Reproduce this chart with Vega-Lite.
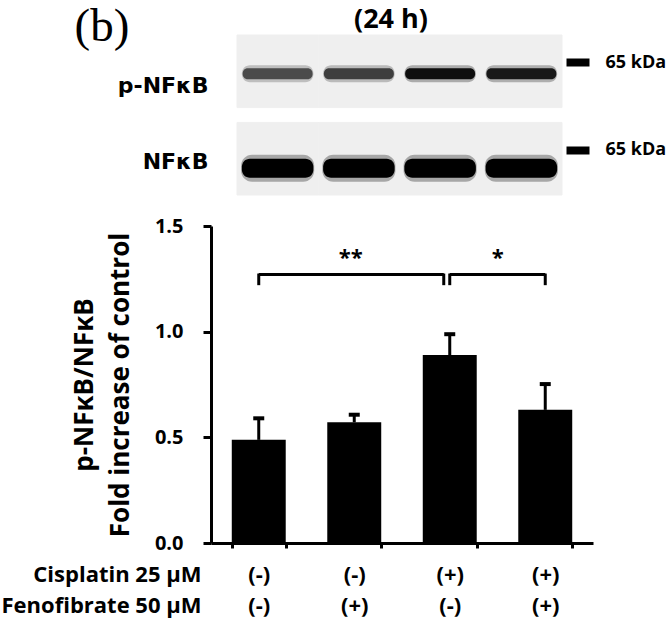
{
  "$schema": "https://vega.github.io/schema/vega-lite/v6.json",
  "padding": {"left": 1, "top": 2, "right": 5, "bottom": 4},
  "background": "white",
  "spacing": 20,
  "config": {
    "view": {"stroke": null},
    "font": "Open Sans",
    "axis": {"labelColor": "black", "titleColor": "black", "domainColor": "black", "tickColor": "black", "labelFont": "Open Sans", "titleFont": "Open Sans", "grid": false}
  },
  "datasets": {
    "blot": [
      {"lane": "1", "protein": "p-NFκB", "intensity": 0.68},
      {"lane": "2", "protein": "p-NFκB", "intensity": 0.74},
      {"lane": "3", "protein": "p-NFκB", "intensity": 0.96},
      {"lane": "4", "protein": "p-NFκB", "intensity": 0.92},
      {"lane": "1", "protein": "NFκB", "intensity": 1.0},
      {"lane": "2", "protein": "NFκB", "intensity": 1.0},
      {"lane": "3", "protein": "NFκB", "intensity": 1.0},
      {"lane": "4", "protein": "NFκB", "intensity": 1.0}
    ],
    "bars": [
      {"group": "(-)/(-)", "mean": 0.488, "upper": 0.59},
      {"group": "(-)/(+)", "mean": 0.571, "upper": 0.607},
      {"group": "(+)/(-)", "mean": 0.889, "upper": 0.988},
      {"group": "(+)/(+)", "mean": 0.63, "upper": 0.752}
    ],
    "brackets": [
      {"from": "(-)/(-)", "to": "(+)/(-)", "label": "**"},
      {"from": "(+)/(-)", "to": "(+)/(+)", "label": "*"}
    ]
  },
  "vconcat": [
    {
      "width": 351,
      "height": 160,
      "data": {"name": "blot"},
      "resolve": {"axis": {"y": "independent"}},
      "layer": [
        {
          "mark": {"type": "rect", "color": "#efefef", "stroke": "#efefef", "strokeWidth": 1},
          "encoding": {
            "x": {"field": "lane", "type": "ordinal",
              "scale": {"domain": ["1", "2", "3", "4"], "paddingInner": 0, "paddingOuter": 0.16, "align": 1},
              "axis": {"orient": "top", "title": "(24 h)", "labels": false, "ticks": false, "domain": false,
                "titleFontSize": 27, "titleFontWeight": "bold", "titleX": 179.5, "titleY": -8,
                "titleAlign": "center", "titleBaseline": "alphabetic"}},
            "y": {"field": "protein", "type": "nominal",
              "scale": {"domain": ["p-NFκB", "NFκB"], "paddingInner": 0.17, "paddingOuter": 0},
              "axis": {"title": "(b)", "titleAngle": 0, "titleFont": "Liberation Serif", "titleFontSize": 47,
                "titleFontWeight": "normal", "titleX": -137, "titleY": 5, "titleAlign": "left", "titleBaseline": "alphabetic",
                "labelFont": "DejaVu Sans", "labelFontSize": 22, "labelFontWeight": "bold",
                "ticks": false, "tickSize": 0, "domain": false, "labelPadding": 3,
                "labelOffset": {"condition": {"test": "datum.value === 'NFκB'", "value": 3.5}, "value": 14.5}}}
          }
        },
        {
          "transform": [{"filter": "datum.protein === 'p-NFκB'"}],
          "mark": {"type": "rect", "width": {"band": 0.88}, "height": 17, "yOffset": 2.5, "cornerRadius": 8, "opacity": 0.3},
          "encoding": {
            "x": {"field": "lane", "type": "ordinal"},
            "y": {"field": "protein", "type": "nominal",
              "axis": {"orient": "right", "title": null, "domain": false, "ticks": true, "tickSize": 23, "tickWidth": 8,
                "offset": 4, "tickOffset": -9, "labelExpr": "'65 kDa'", "labelFontSize": 18, "labelFontWeight": "bold",
                "labelPadding": 16}},
            "color": {"field": "intensity", "type": "quantitative", "scale": {"domain": [0, 1], "range": ["#ffffff", "#000000"]}, "legend": null}
          }
        },
        {
          "transform": [{"filter": "datum.protein === 'p-NFκB'"}],
          "mark": {"type": "rect", "width": {"band": 0.86}, "height": 11, "yOffset": 2.5, "cornerRadius": 5},
          "encoding": {
            "x": {"field": "lane", "type": "ordinal"},
            "y": {"field": "protein", "type": "nominal", "axis": null},
            "color": {"field": "intensity", "type": "quantitative", "scale": {"domain": [0, 1], "range": ["#ffffff", "#000000"]}, "legend": null}
          }
        },
        {
          "transform": [{"filter": "datum.protein === 'NFκB'"}],
          "mark": {"type": "rect", "width": {"band": 0.9}, "height": 27, "yOffset": 9.5, "cornerRadius": 11, "opacity": 0.3},
          "encoding": {
            "x": {"field": "lane", "type": "ordinal"},
            "y": {"field": "protein", "type": "nominal", "axis": null},
            "color": {"field": "intensity", "type": "quantitative", "scale": {"domain": [0, 1], "range": ["#ffffff", "#000000"]}, "legend": null}
          }
        },
        {
          "transform": [{"filter": "datum.protein === 'NFκB'"}],
          "mark": {"type": "rect", "width": {"band": 0.88}, "height": 19, "yOffset": 9.5, "cornerRadius": 8},
          "encoding": {
            "x": {"field": "lane", "type": "ordinal"},
            "y": {"field": "protein", "type": "nominal", "axis": null},
            "color": {"field": "intensity", "type": "quantitative", "scale": {"domain": [0, 1], "range": ["#ffffff", "#000000"]}, "legend": null}
          }
        }
      ]
    },
    {
      "width": 382,
      "height": 317,
      "layer": [
        {
          "data": {"name": "bars"},
          "mark": {"type": "bar", "color": "black"},
          "encoding": {
            "x": {"field": "group", "type": "nominal", "sort": null,
              "scale": {"domain": ["(-)/(-)", "(-)/(+)", "(+)/(-)", "(+)/(+)"], "paddingInner": 0.435, "paddingOuter": 0.2175},
              "axis": {"title": ["Cisplatin 25 µM", "Fenofibrate 50 µM"], "labelExpr": "split(datum.label, '/')", "labelAngle": 0,
                "labelFontSize": 22, "labelFontWeight": "bold", "labelLineHeight": 31, "labelBaseline": "top", "labelPadding": 16,
                "tickBand": "extent", "tickSize": 5, "tickWidth": 3, "domainWidth": 3,
                "titleFontSize": 22, "titleFontWeight": "bold", "titleLineHeight": 31,
                "titleX": -10, "titleY": 21, "titleAlign": "right", "titleBaseline": "top", "titleAnchor": "start"}},
            "y": {"field": "mean", "type": "quantitative",
              "scale": {"domain": [0, 1.5], "nice": false},
              "axis": {"title": ["p-NFκB/NFκB", "Fold  increase of control"], "values": [0, 0.5, 1, 1.5], "format": ".1f",
                "labelFontSize": 20, "labelFontWeight": "bold", "labelPadding": 20, "tickSize": 8, "tickWidth": 3, "domainWidth": 3,
                "titleFontSize": 26, "titleFontWeight": "bold", "titleLineHeight": 36, "titlePadding": 21}}
          }
        },
        {
          "data": {"name": "bars"},
          "mark": {"type": "rule", "strokeWidth": 3, "color": "black"},
          "encoding": {
            "x": {"field": "group", "type": "nominal", "sort": null},
            "y": {"field": "mean", "type": "quantitative"},
            "y2": {"field": "upper"}
          }
        },
        {
          "data": {"name": "bars"},
          "mark": {"type": "tick", "thickness": 4, "size": 11, "color": "black", "opacity": 1, "orient": "horizontal"},
          "encoding": {
            "x": {"field": "group", "type": "nominal", "sort": null},
            "y": {"field": "upper", "type": "quantitative"}
          }
        },
        {
          "data": {"name": "brackets"},
          "transform": [{"filter": "datum.label === '**'"}],
          "mark": {"type": "rule", "strokeWidth": 3, "color": "black", "x2Offset": -6},
          "encoding": {
            "x": {"field": "from", "type": "nominal", "sort": null},
            "x2": {"field": "to"},
            "y": {"datum": 1.27}
          }
        },
        {
          "data": {"name": "brackets"},
          "transform": [{"filter": "datum.label === '*'"}],
          "mark": {"type": "rule", "strokeWidth": 3, "color": "black"},
          "encoding": {
            "x": {"field": "from", "type": "nominal", "sort": null},
            "x2": {"field": "to"},
            "y": {"datum": 1.27}
          }
        },
        {
          "data": {"name": "brackets"},
          "mark": {"type": "rule", "strokeWidth": 3, "color": "black"},
          "encoding": {
            "x": {"field": "from", "type": "nominal", "sort": null},
            "y": {"datum": 1.22},
            "y2": {"datum": 1.275}
          }
        },
        {
          "data": {"name": "brackets"},
          "transform": [{"filter": "datum.label === '**'"}],
          "mark": {"type": "rule", "strokeWidth": 3, "color": "black", "xOffset": -6},
          "encoding": {
            "x": {"field": "to", "type": "nominal", "sort": null},
            "y": {"datum": 1.22},
            "y2": {"datum": 1.275}
          }
        },
        {
          "data": {"name": "brackets"},
          "transform": [{"filter": "datum.label === '*'"}],
          "mark": {"type": "rule", "strokeWidth": 3, "color": "black"},
          "encoding": {
            "x": {"field": "to", "type": "nominal", "sort": null},
            "y": {"datum": 1.22},
            "y2": {"datum": 1.275}
          }
        },
        {
          "data": {"name": "brackets"},
          "transform": [{"filter": "datum.label === '**'"}],
          "mark": {"type": "text", "fontSize": 22, "fontWeight": "bold", "color": "black", "dx": 92, "baseline": "middle"},
          "encoding": {
            "x": {"field": "from", "type": "nominal", "sort": null},
            "y": {"datum": 1.35},
            "text": {"field": "label"}
          }
        },
        {
          "data": {"name": "brackets"},
          "transform": [{"filter": "datum.label === '*'"}],
          "mark": {"type": "text", "fontSize": 22, "fontWeight": "bold", "color": "black", "dx": 48, "baseline": "middle"},
          "encoding": {
            "x": {"field": "from", "type": "nominal", "sort": null},
            "y": {"datum": 1.35},
            "text": {"field": "label"}
          }
        }
      ]
    }
  ]
}
